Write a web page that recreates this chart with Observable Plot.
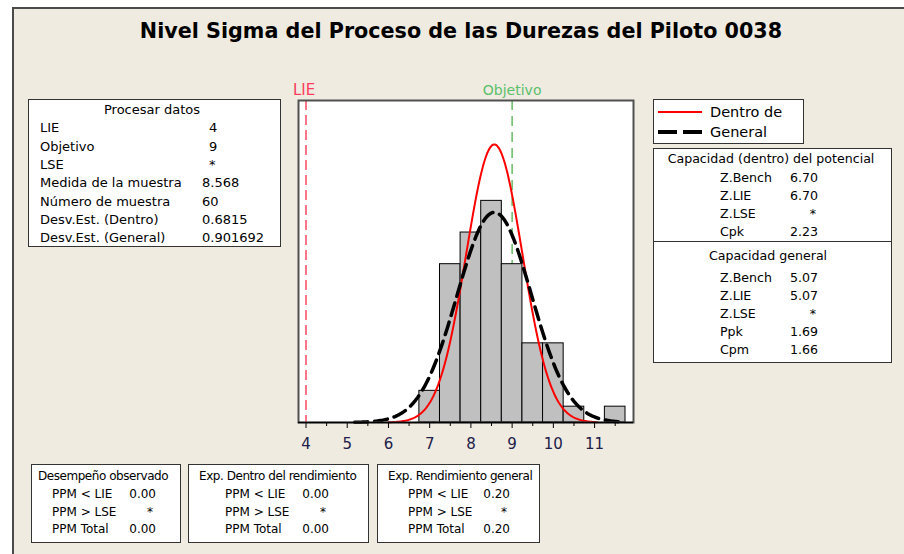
<!DOCTYPE html>
<html><head><meta charset="utf-8">
<script src="https://cdn.jsdelivr.net/npm/d3@7"></script>
<script src="https://cdn.jsdelivr.net/npm/@observablehq/plot@0.6"></script>
<style>
body{margin:0;background:#fff;}
#root{position:relative;width:904px;height:554px;background:#fff;overflow:hidden;font-family:"DejaVu Sans",sans-serif;}
#panel{position:absolute;left:12px;top:7px;right:0;bottom:0;background:#efebe1;border-left:2px solid #4a4a4a;border-top:2px solid #4a4a4a;}
.t{position:absolute;white-space:nowrap;font-size:12px;line-height:16px;color:#000;}
.box{position:absolute;background:#fff;border:1px solid #333;box-sizing:border-box;}
#chart{position:absolute;left:0;top:0;}
</style></head>
<body>
<div id="root"><div id="panel"></div></div>
<script>
// ---- data ----
const binLo = [6.75, 7.25, 7.75, 8.25, 8.75, 9.25, 9.75, 10.25, 11.25];
const binHi = [7.25, 7.75, 8.25, 8.75, 9.25, 9.75, 10.25, 10.75, 11.75];
const binCount = [2, 10, 12, 14, 10, 5, 5, 1, 1];
const xTicks = [4, 5, 6, 7, 8, 9, 10, 11];
const xMinorTicks = [4.5, 5.5, 6.5, 7.5, 8.5, 9.5, 10.5, 11.5];
const LIE = 4, OBJETIVO = 9;
const sampleMean = 8.568, sampleN = 60, sdWithin = 0.6815, sdOverall = 0.901692, binWidth = 0.5;
const curveWithinRange = [6.0, 11.06];
const curveOverallRange = [5.18, 11.72];

const procLabels = ["LIE", "Objetivo", "LSE", "Medida de la muestra", "Número de muestra", "Desv.Est. (Dentro)", "Desv.Est. (General)"];
const procValues = ["4", "9", "*", "8.568", "60", "0.6815", "0.901692"];
const capLabels = ["Z.Bench", "Z.LIE", "Z.LSE", "Cpk"];
const capWithinValues = ["6.70", "6.70", "*", "2.23"];
const capGenLabels = ["Z.Bench", "Z.LIE", "Z.LSE", "Ppk", "Cpm"];
const capGenValues = ["5.07", "5.07", "*", "1.69", "1.66"];
const ppmLabels = ["PPM < LIE", "PPM > LSE", "PPM Total"];
const ppmObserved = ["0.00", "*", "0.00"];
const ppmWithin = ["0.00", "*", "0.00"];
const ppmOverall = ["0.20", "*", "0.20"];

// ---- build ----
const bins = binLo.map((lo, i) => ({lo, hi: binHi[i], count: binCount[i]}));
function normalCurve(sd, [a, b]) {
  const pts = [];
  const steps = 200;
  for (let i = 0; i <= steps; i++) {
    const x = a + (b - a) * i / steps;
    const z = (x - sampleMean) / sd;
    pts.push({x, y: sampleN * binWidth * Math.exp(-0.5 * z * z) / (sd * Math.sqrt(2 * Math.PI))});
  }
  return pts;
}
const within = normalCurve(sdWithin, curveWithinRange);
const overall = normalCurve(sdOverall, curveOverallRange);

const root = document.getElementById("root");
function T(x, y, s, anchor = "start", style = "") {
  const d = document.createElement("div");
  d.className = "t";
  d.textContent = s;
  const tx = anchor === "middle" ? "-50%" : anchor === "end" ? "-100%" : "0";
  d.style.cssText = `left:${x}px;top:${y}px;transform:translate(${tx},-50%);${style}`;
  root.appendChild(d);
  return d;
}
function B(x1, y1, x2, y2, style = "") {
  const d = document.createElement("div");
  d.className = "box";
  d.style.cssText = `left:${x1}px;top:${y1}px;width:${x2 - x1}px;height:${y2 - y1}px;${style}`;
  root.appendChild(d);
  return d;
}

const chart = Plot.plot({
  width: 904, height: 554,
  marginLeft: 298, marginRight: 271, marginTop: 100, marginBottom: 132,
  x: {domain: [3.818, 11.944]},
  y: {domain: [0, 20.34], axis: null},
  style: {background: "transparent", fontFamily: "DejaVu Sans, sans-serif", overflow: "visible"},
  marks: [
    Plot.frame({fill: "white"}),
    Plot.ruleX([LIE], {stroke: "#ff4a66", strokeWidth: 1.5, strokeDasharray: "10,5"}),
    Plot.ruleX([OBJETIVO], {stroke: "#66bb66", strokeWidth: 1.5, strokeDasharray: "10,6"}),
    Plot.rectY(bins, {x1: "lo", x2: "hi", y: "count", fill: "#c0c0c0", stroke: "#000", strokeWidth: 1}),
    Plot.line(within, {x: "x", y: "y", stroke: "#ff0000", strokeWidth: 2}),
    Plot.line(overall, {x: "x", y: "y", stroke: "#000", strokeWidth: 3.5, strokeDasharray: "13,7"}),
    Plot.frame({stroke: "#505050", strokeWidth: 2}),
    Plot.ruleY([0], {stroke: "#000", strokeWidth: 1.5}),
    Plot.text([{x: LIE, t: "LIE"}], {x: "x", text: "t", frameAnchor: "top", lineAnchor: "middle", dy: -10, dx: -2, fill: "#ff3b5c", fontSize: 15}),
    Plot.text([{x: OBJETIVO, t: "Objetivo"}], {x: "x", text: "t", frameAnchor: "top", lineAnchor: "middle", dy: -10, fill: "#5cbf6a", fontSize: 14}),
    Plot.axisX({ticks: xTicks, tickSize: 6, text: null, stroke: "#000"}),
    Plot.axisX({ticks: xMinorTicks, tickSize: 4, text: null, stroke: "#000"}),
    Plot.axisX({ticks: xTicks, tickSize: 0, tickPadding: 16, fontSize: 15, fill: "#202048", label: null})
  ]
});
chart.id = "chart";
root.appendChild(chart);

// title
T(461, 31, "Nivel Sigma del Proceso de las Durezas del Piloto 0038", "middle", "font-weight:bold;font-size:20.7px;line-height:26px;");

// Procesar datos box
const L = "font-size:13px;";
B(28, 99, 281, 247);
T(152, 110, "Procesar datos", "middle", L);
procLabels.forEach((l, i) => {
  const y = 128.3 + i * 18.33;
  T(40, y, l, "start", L);
  T(procValues[i].length === 1 ? 209 : 202, y, procValues[i], "start", L);
});

// legend box
B(653, 99, 804, 144);
const leg = document.createElementNS("http://www.w3.org/2000/svg", "svg");
leg.setAttribute("width", 904); leg.setAttribute("height", 554);
leg.style.cssText = "position:absolute;left:0;top:0;pointer-events:none";
leg.innerHTML = `<line x1="658" x2="702" y1="112" y2="112" stroke="#ff0000" stroke-width="2"/>
<line x1="658" x2="702" y1="132" y2="132" stroke="#000" stroke-width="4" stroke-dasharray="19,6"/>`;
root.appendChild(leg);
T(710, 112, "Dentro de", "start", "font-size:14.5px;");
T(710, 132, "General", "start", "font-size:14.5px;");

// capacity box
const C = "font-size:12.6px;";
B(653, 148, 892, 363);
const div = document.createElement("div");
div.style.cssText = "position:absolute;left:653px;top:241px;width:239px;height:1px;background:#333";
root.appendChild(div);
T(771, 159, "Capacidad (dentro) del potencial", "middle", C);
capLabels.forEach((l, i) => {
  const y = 177.7 + i * 18;
  T(720, y, l, "start", C);
  T(capWithinValues[i] === "*" ? 816 : 818, y, capWithinValues[i], "end", C);
});
T(768, 256, "Capacidad general", "middle", C);
capGenLabels.forEach((l, i) => {
  const y = 277.7 + i * 18.1;
  T(720, y, l, "start", C);
  T(capGenValues[i] === "*" ? 816 : 818, y, capGenValues[i], "end", C);
});

// bottom boxes
const bottom = [
  {x1: 31, x2: 181, title: "Desempeño observado", tx: 38, lx: 52, vx: 156, vals: ppmObserved},
  {x1: 188, x2: 369, title: "Exp. Dentro del rendimiento", tx: 199, lx: 225, vx: 329, vals: ppmWithin},
  {x1: 377, x2: 540, title: "Exp. Rendimiento general", tx: 388, lx: 408, vx: 510, vals: ppmOverall}
];
bottom.forEach(b => {
  B(b.x1, 464, b.x2, 543);
  T(b.tx, 476, b.title, "start", "font-size:12px;letter-spacing:-0.45px;");
  ppmLabels.forEach((l, i) => {
    const y = 494.3 + i * 17.3;
    T(b.lx, y, l);
    T(b.vals[i] === "*" ? b.vx - 3 : b.vx, y, b.vals[i], "end");
  });
});
</script>
</body></html>
